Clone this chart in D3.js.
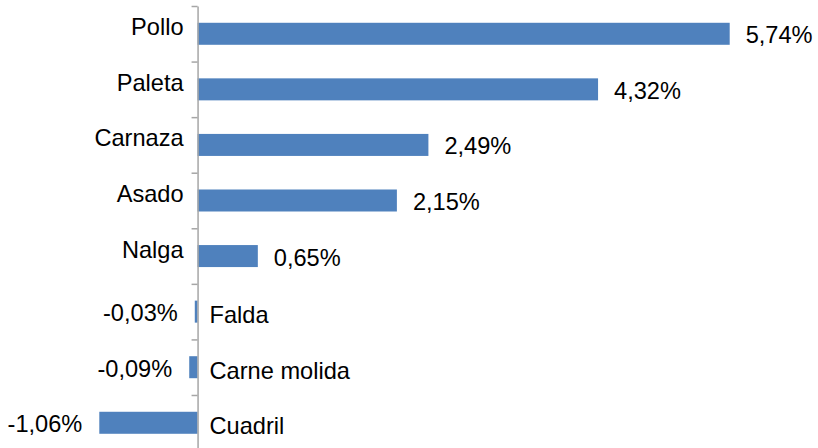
<!DOCTYPE html>
<html><head><meta charset="utf-8">
<script src="https://cdn.jsdelivr.net/npm/d3@7"></script>
<style>html,body{margin:0;padding:0;background:#fff;}svg{display:block;}</style>
</head><body>
<script>
const categories = ["Pollo","Paleta","Carnaza","Asado","Nalga","Falda","Carne molida","Cuadril"];
const values = [5.74, 4.32, 2.49, 2.15, 0.65, -0.03, -0.09, -1.06];
const valueLabels = ["5,74%","4,32%","2,49%","2,15%","0,65%","-0,03%","-0,09%","-1,06%"];

const W = 818, H = 448;
const svg = d3.select("body").append("svg").attr("width", W).attr("height", H);

const x = d3.scaleLinear().domain([-1.06, 5.74]).range([99.3, 729.7]);
const y = d3.scaleBand().domain(categories).range([6, 6 + 8 * 55.57]).paddingInner(0.604).paddingOuter(0.302);
const yb = d3.scaleLinear().domain([0, 8]).range([6, 6 + 8 * 55.57]);

const font = "'Liberation Sans', Arial, sans-serif";
const fs = 23.6;

svg.append("g").selectAll("rect").data(values).join("rect")
  .attr("x", d => x(Math.min(0, d)))
  .attr("width", d => Math.abs(x(d) - x(0)))
  .attr("y", (d, i) => y(categories[i]))
  .attr("height", y.bandwidth())
  .attr("fill", "#4f81bd");

const axis = svg.append("g").attr("transform", `translate(${x(0)},0)`)
  .call(d3.axisLeft(yb).tickValues(d3.range(0, 9)).tickSize(6).tickSizeOuter(0).tickFormat(""));
axis.selectAll("path,line").attr("stroke", "#a6a6a6").attr("stroke-width", 1.5);

// category labels
svg.append("g").selectAll("text").data(categories).join("text")
  .attr("x", (c, i) => values[i] >= 0 ? x(0) - 14 : x(0) + 12)
  .attr("y", (c, i) => y(c) + y.bandwidth() / 2 + (values[i] >= 0 ? -7 : 3))
  .attr("dy", "0.36em")
  .attr("text-anchor", (c, i) => values[i] >= 0 ? "end" : "start")
  .attr("font-family", font).attr("font-size", fs).attr("fill", "#000")
  .text(c => c);

// value labels
svg.append("g").selectAll("text").data(values).join("text")
  .attr("x", d => d >= 0 ? x(d) + 16 : x(d) - 17)
  .attr("y", (d, i) => y(categories[i]) + y.bandwidth() / 2 + 1)
  .attr("dy", "0.36em")
  .attr("text-anchor", d => d >= 0 ? "start" : "end")
  .attr("font-family", font).attr("font-size", fs).attr("fill", "#000")
  .text((d, i) => valueLabels[i]);
</script>
</body></html>
